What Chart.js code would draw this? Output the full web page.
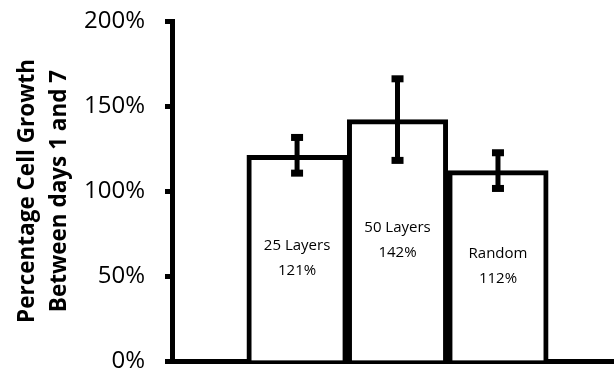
<!DOCTYPE html>
<html>
<head>
<meta charset="utf-8">
<script src="https://cdn.jsdelivr.net/npm/chart.js@4/dist/chart.umd.min.js"></script>
<style>
  html, body { margin: 0; padding: 0; background: #fff; overflow: hidden; }
  #wrap { width: 614px; height: 371px; position: relative; }
</style>
</head>
<body>
<div id="wrap"><canvas id="growthChart"></canvas></div>
<script>
const categories = ['25 Layers', '50 Layers', 'Random'];
const positions = [1, 2, 3];
const growth = [121, 142, 112];
const errors = [10.5, 24, 10.5];
const yTicks = [0, 50, 100, 150, 200];

const ctx = document.getElementById('growthChart').getContext('2d');

const errorBars = {
    id: 'errorBars',
    afterDatasetsDraw(chart) {
        const c = chart.ctx;
        const meta = chart.getDatasetMeta(0);
        const y = chart.scales.y;
        c.save();
        c.strokeStyle = '#000';
        c.fillStyle = '#000';
        meta.data.forEach((bar, i) => {
            const top = y.getPixelForValue(growth[i] + errors[i]);
            const bot = y.getPixelForValue(growth[i] - errors[i]);
            c.lineWidth = 5;
            c.beginPath();
            c.moveTo(bar.x, top);
            c.lineTo(bar.x, bot);
            c.stroke();
            c.fillRect(bar.x - 6, top - 3.5, 12, 7);
            c.fillRect(bar.x - 6, bot - 3.5, 12, 7);

            // label in the middle of the bar
            const mid = (bar.y + bar.base) / 2;
            c.font = '15px "Open Sans"';
            c.textAlign = 'center';
            c.textBaseline = 'middle';
            c.fillText(categories[i], bar.x, mid - 12);
            c.fillText(growth[i] + '%', bar.x, mid + 13);
        });
        c.restore();
    }
};

new Chart(ctx, {
    type: 'bar',
    data: {
        datasets: [{
            data: positions.map((p, i) => ({ x: p, y: growth[i] })),
            backgroundColor: '#fff',
            borderColor: '#000',
            borderWidth: 5,
            categoryPercentage: 1,
            barPercentage: 1
        }]
    },
    options: {
        responsive: true,
        maintainAspectRatio: false,
        animation: false,
        layout: { padding: { top: 21, bottom: 10, right: 0, left: 0 } },
        plugins: {
            legend: { display: false },
            tooltip: { enabled: false }
        },
        scales: {
            x: {
                type: 'linear',
                offset: false,
                min: -0.245,
                max: 4.155,
                afterBuildTicks(scale) {
                    scale.ticks = positions.map(v => ({ value: v }));
                },
                ticks: { display: false },
                grid: { display: false, drawTicks: false },
                border: { display: true, color: '#000', width: 5 }
            },
            y: {
                min: 0,
                max: 200,
                afterBuildTicks(scale) {
                    scale.ticks = yTicks.map(v => ({ value: v }));
                },
                afterFit(scale) {
                    scale.width = 172;
                    scale.paddingTop = 0;
                    scale.paddingBottom = 0;
                },
                ticks: {
                    color: '#000',
                    padding: 20,
                    font: { family: 'Open Sans', size: 24 },
                    callback: v => v + '%'
                },
                grid: {
                    drawOnChartArea: false,
                    drawTicks: true,
                    tickLength: 7,
                    tickWidth: 5,
                    color: '#000'
                },
                border: { display: true, color: '#000', width: 5 },
                title: {
                    display: true,
                    text: ['Percentage Cell Growth', 'Between days 1 and 7'],
                    color: '#000',
                    font: { family: 'Open Sans', size: 22.5, weight: 'bold', lineHeight: 1.45 },
                    padding: { top: 11, bottom: 0 }
                }
            }
        }
    },
    plugins: [errorBars]
});
</script>
</body>
</html>
